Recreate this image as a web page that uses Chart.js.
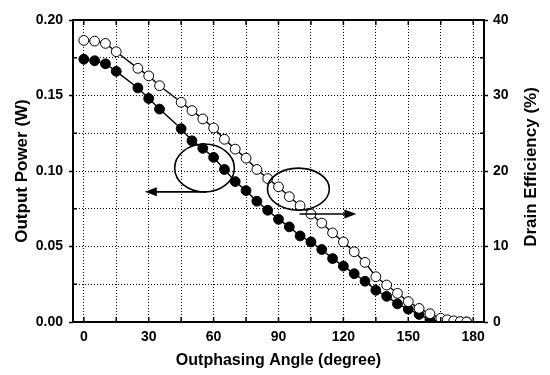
<!DOCTYPE html>
<html lang="en">
<head>
    <meta charset="UTF-8">
    <title>Outphasing Angle vs Output Power / Drain Efficiency</title>
    <script src="https://cdn.jsdelivr.net/npm/chart.js"></script>
    <style>
        body { margin: 0; background: #fff; }
        #wrap { width: 550px; height: 375px; }
    </style>
</head>
<body>
    <div id="wrap"><canvas id="pae" width="550" height="375"></canvas></div>

    <script>
        // data
        const angles = [0, 5, 10, 15, 25, 30, 35, 45, 50, 55, 60, 65, 70, 75, 80, 85, 90, 95, 100,
            105, 110, 115, 120, 125, 130, 135, 140, 145, 150, 155, 160, 165, 168, 171, 174, 177];
        const outputPower = [0.174, 0.173, 0.171, 0.166, 0.155, 0.148, 0.141, 0.128, 0.120, 0.115,
            0.109, 0.101, 0.093, 0.087, 0.080, 0.074, 0.068, 0.063, 0.057, 0.053, 0.048, 0.042,
            0.037, 0.032, 0.027, 0.021, 0.017, 0.012, 0.0085, 0.005, 0.0015, 0, 0, 0, 0, 0];
        const drainEff = [37.3, 37.2, 36.9, 35.8, 33.6, 32.6, 31.3, 29.1, 28.0, 26.9, 25.7, 24.2,
            22.9, 21.7, 20.2, 19.0, 17.9, 16.6, 15.4, 14.3, 13.1, 11.8, 10.6, 9.3, 7.9, 6.0, 4.9,
            3.8, 2.7, 1.8, 1.1, 0.5, 0.3, 0.15, 0.05, 0];

        const angleTicks = [0, 15, 30, 45, 60, 75, 90, 105, 120, 135, 150, 165, 180];
        const powerTicks = [0, 0.025, 0.05, 0.075, 0.1, 0.125, 0.15, 0.175, 0.2];
        const effTicks = [0, 5, 10, 15, 20, 25, 30, 35, 40];

        const FONT = "'Liberation Sans', Arial, sans-serif";

        // ellipses + arrows marking which curve goes with which axis (data units)
        const noteLeft = { cx: 55.8, cy: 0.102, rx: 13.8, ry: 0.0159, from: 56.6, to: 28.2, ay: 0.0862 };
        const noteRight = { cx: 99.2, cy: 17.6, rx: 14.3, ry: 2.78, from: 99.7, to: 126, ay: 14.3 };

        function arrow(ctx, x1, x2, y) {
            const dir = Math.sign(x2 - x1);
            ctx.beginPath();
            ctx.moveTo(x1, y);
            ctx.lineTo(x2 - dir * 10, y);
            ctx.stroke();
            ctx.beginPath();
            ctx.moveTo(x2, y);
            ctx.lineTo(x2 - dir * 12, y - 4.5);
            ctx.lineTo(x2 - dir * 12, y + 4.5);
            ctx.closePath();
            ctx.fill();
        }

        function note(ctx, n, xs, ys) {
            const cx = xs.getPixelForValue(n.cx), cy = ys.getPixelForValue(n.cy);
            const rx = xs.getPixelForValue(n.cx + n.rx) - cx;
            const ry = cy - ys.getPixelForValue(n.cy + n.ry);
            ctx.beginPath();
            ctx.ellipse(cx, cy, rx, ry, 0, 0, Math.PI * 2);
            ctx.stroke();
            arrow(ctx, xs.getPixelForValue(n.from), xs.getPixelForValue(n.to), ys.getPixelForValue(n.ay));
        }

        const framePlugin = {
            id: 'framePlugin',
            afterDraw(chart) {
                const { ctx, chartArea: a, scales: { x, y, y1 } } = chart;
                ctx.save();
                ctx.strokeStyle = '#000';
                ctx.fillStyle = '#000';

                // inward ticks
                ctx.lineWidth = 1.5;
                ctx.beginPath();
                x.ticks.forEach(t => {
                    const px = x.getPixelForValue(t.value);
                    ctx.moveTo(px, a.top); ctx.lineTo(px, a.top + 5);
                    ctx.moveTo(px, a.bottom); ctx.lineTo(px, a.bottom - 5);
                });
                y.ticks.forEach((t, i) => {
                    if (i % 2 === 0) return;
                    const py = y.getPixelForValue(t.value);
                    ctx.moveTo(a.left, py); ctx.lineTo(a.left + 4, py);
                    ctx.moveTo(a.right, py); ctx.lineTo(a.right - 4, py);
                });
                ctx.stroke();

                ctx.lineWidth = 2;
                ctx.strokeRect(a.left, a.top, a.right - a.left, a.bottom - a.top);

                ctx.lineWidth = 1.6;
                note(ctx, noteLeft, x, y);
                note(ctx, noteRight, x, y1);

                // right title reads bottom-to-top
                ctx.translate(531.5, 167);
                ctx.rotate(-Math.PI / 2);
                ctx.font = "bold 17px " + FONT;
                ctx.textAlign = 'center';
                ctx.textBaseline = 'middle';
                ctx.fillText('Drain Efficiency (%)', 0, 0);
                ctx.restore();
            }
        };

        const majorOnly = (list, every) => (ctx) =>
            ctx.tick && list.indexOf(ctx.tick.value) % every === 0 ? '#000' : 'rgba(0,0,0,0)';

        const ctx = document.getElementById('pae').getContext('2d');

        new Chart(ctx, {
            type: 'line',
            data: {
                datasets: [{
                    label: 'Output Power',
                    data: angles.map((a, i) => ({ x: a, y: outputPower[i] })),
                    yAxisID: 'y',
                    borderColor: '#000',
                    borderWidth: 1.4,
                    pointRadius: 4.9,
                    pointBackgroundColor: '#000',
                    pointBorderColor: '#000',
                    pointBorderWidth: 1,
                    order: 2
                }, {
                    label: 'Drain Efficiency',
                    data: angles.map((a, i) => ({ x: a, y: drainEff[i] })),
                    yAxisID: 'y1',
                    borderColor: '#000',
                    borderWidth: 1.4,
                    pointRadius: 4.9,
                    pointBackgroundColor: '#fff',
                    pointBorderColor: '#000',
                    pointBorderWidth: 1,
                    order: 1
                }]
            },
            options: {
                responsive: false,
                animation: false,
                events: [],
                layout: { padding: { top: 20, left: 0, right: 0, bottom: 0 } },
                plugins: { legend: { display: false }, tooltip: { enabled: false } },
                scales: {
                    x: {
                        type: 'linear',
                        min: -5,
                        max: 185,
                        afterBuildTicks: s => { s.ticks = angleTicks.map(v => ({ value: v })); },
                        afterFit: s => { s.height = 53; },
                        grid: { color: '#000', lineWidth: 1, drawTicks: false },
                        border: { display: false, dash: [1, 2] },
                        ticks: {
                            autoSkip: false,
                            maxRotation: 0,
                            padding: 7,
                            color: '#000',
                            font: { family: FONT, size: 14, weight: 'bold' },
                            callback: v => (v % 30 === 0 ? String(v) : '')
                        },
                        title: {
                            display: true,
                            text: 'Outphasing Angle (degree)',
                            color: '#000',
                            font: { family: FONT, size: 16, weight: 'bold' },
                            padding: { top: 0, bottom: 5 }
                        }
                    },
                    y: {
                        position: 'left',
                        min: 0,
                        max: 0.2,
                        afterBuildTicks: s => { s.ticks = powerTicks.map(v => ({ value: v })); },
                        afterFit: s => { s.width = 73; },
                        grid: {
                            color: '#000',
                            lineWidth: 1,
                            tickLength: 4,
                            tickWidth: 1.5,
                            tickColor: majorOnly(powerTicks, 2)
                        },
                        border: { display: false, dash: [1, 2] },
                        ticks: {
                            autoSkip: false,
                            padding: 6,
                            color: '#000',
                            font: { family: FONT, size: 14, weight: 'bold' },
                            callback: (v, i) => (i % 2 === 0 ? v.toFixed(2) : '')
                        },
                        title: {
                            display: true,
                            text: 'Output Power (W)',
                            color: '#000',
                            font: { family: FONT, size: 17, weight: 'bold' },
                            padding: { top: 12, bottom: 0 }
                        }
                    },
                    y1: {
                        position: 'right',
                        min: 0,
                        max: 40,
                        afterBuildTicks: s => { s.ticks = effTicks.map(v => ({ value: v })); },
                        afterFit: s => { s.width = 66; },
                        grid: {
                            drawOnChartArea: false,
                            tickLength: 4,
                            tickWidth: 1.5,
                            tickColor: majorOnly(effTicks, 2)
                        },
                        border: { display: false },
                        ticks: {
                            autoSkip: false,
                            padding: 5,
                            color: '#000',
                            font: { family: FONT, size: 14, weight: 'bold' },
                            callback: (v, i) => (i % 2 === 0 ? String(v) : '')
                        },
                        title: { display: false }
                    }
                }
            },
            plugins: [framePlugin]
        });
    </script>
</body>
</html>
